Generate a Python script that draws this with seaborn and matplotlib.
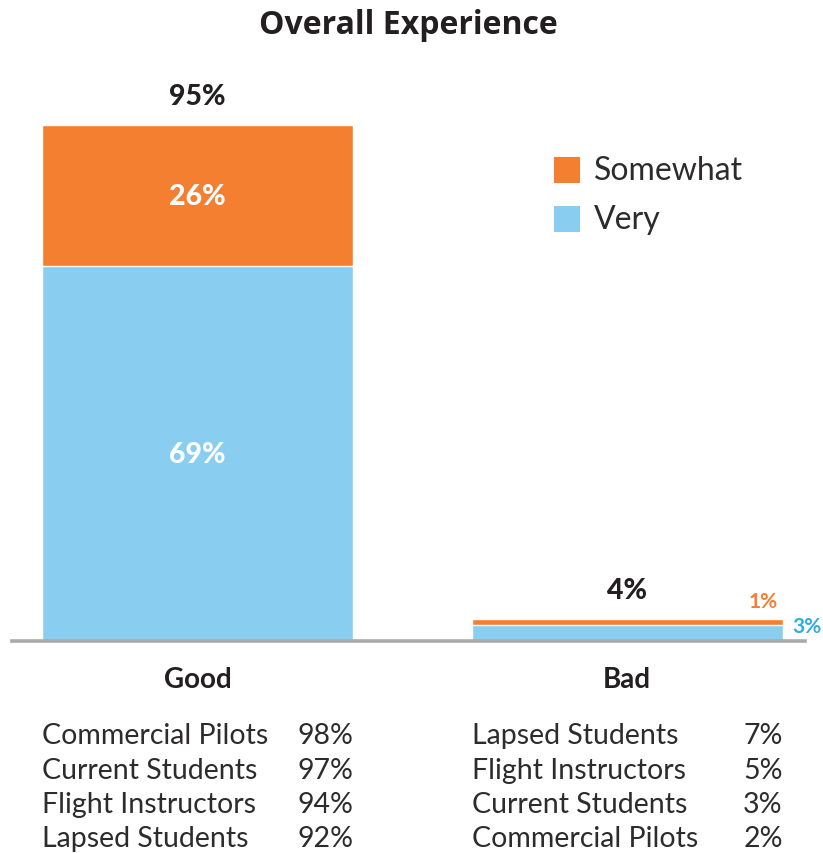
import matplotlib
matplotlib.use("Agg")
import matplotlib.pyplot as plt
from matplotlib.patches import Rectangle
import seaborn as sns
import pandas as pd

# Overall experience, share of respondents (%)
categories = ["Good", "Bad"]
very = [69, 3]
somewhat = [26, 1]
totals = [95, 4]
legend_labels = ["Somewhat", "Very"]

# Breakdown by respondent group
good_groups = ["Commercial Pilots", "Current Students", "Flight Instructors", "Lapsed Students"]
good_values = [98, 97, 94, 92]
bad_groups = ["Lapsed Students", "Flight Instructors", "Current Students", "Commercial Pilots"]
bad_values = [7, 5, 3, 2]

ORANGE = "#F47F31"
BLUE = "#89CEF0"
BLUE_TEXT = "#2FADE3"
DARK = "#231F20"
BODY = "#2E2B2C"

sns.set_theme(style="white")
plt.rcParams["font.family"] = ["Lato", "DejaVu Sans"]

df = pd.DataFrame({
    "category": categories,
    "very": very,
    "somewhat": somewhat,
})
df["total"] = df["very"] + df["somewhat"]

W, H = 823, 854
fig = plt.figure(figsize=(W / 100, H / 100), dpi=100)
ax = fig.add_axes([12 / W, (H - 642) / H, 793 / W, 543 / H])

bar_w = 0.724
sns.barplot(data=df, x="category", y="total", color=ORANGE, width=bar_w,
            saturation=1, ax=ax, order=categories)
sns.barplot(data=df, x="category", y="very", color=BLUE, width=bar_w,
            saturation=1, ax=ax, order=categories)

ax.set_xlim(-0.432, 1.414)
ax.set_ylim(0, 100)
for s in ["top", "right", "left"]:
    ax.spines[s].set_visible(False)
ax.spines["bottom"].set_color("#AAAAAA")
ax.spines["bottom"].set_linewidth(2.6)
ax.set_yticks([])
ax.set_xlabel("")
ax.set_ylabel("")
ax.tick_params(axis="x", length=0, pad=18)
ax.set_xticks(range(len(categories)))
ax.set_xticklabels(categories, fontsize=20, fontweight="bold", color=DARK)

# Totals above the bars
for i, t in enumerate(totals):
    ax.annotate(f"{t}%", (i, t), xytext=(0, 21), textcoords="offset points",
                ha="center", va="center", fontsize=20.5, fontweight="black",
                color=DARK, annotation_clip=False)

# Segment values inside the Good bar
ax.text(0, very[0] + somewhat[0] / 2, f"{somewhat[0]}%", ha="center", va="center",
        fontsize=20.5, fontweight="black", color="white")
ax.text(0, very[0] / 2, f"{very[0]}%", ha="center", va="center",
        fontsize=20.5, fontweight="black", color="white")

# Small segment values beside the Bad bar
ax.annotate(f"{somewhat[1]}%", (1 + bar_w / 2, totals[1]), xytext=(-14.4, 13),
            textcoords="offset points", ha="center", va="center",
            fontsize=15, fontweight="bold", color=ORANGE, annotation_clip=False)
ax.annotate(f"{very[1]}%", (1 + bar_w / 2, very[1] / 2), xytext=(17.3, 5),
            textcoords="offset points", ha="center", va="center",
            fontsize=15, fontweight="bold", color=BLUE_TEXT, annotation_clip=False)

# Legend: coloured squares with labels
for (y_top, color, label) in [(158, ORANGE, legend_labels[0]), (207, BLUE, legend_labels[1])]:
    fig.patches.append(Rectangle((554 / W, 1 - (y_top + 26) / H), 26 / W, 26 / H,
                                 transform=fig.transFigure, color=color, lw=0))
    fig.text(594 / W, 1 - (y_top + 13) / H, label, ha="left", va="center",
             fontsize=23, color=BODY)

# Title
fig.text(408 / W, 1 - 25 / H, "Overall Experience", ha="center", va="center",
         fontsize=23, fontweight="bold", color=DARK, family=["Open Sans", "DejaVu Sans"])

# Group breakdown tables under each bar
row_y = [736, 771, 805, 839]
inv = fig.transFigure.inverted()
for i, (groups, vals) in enumerate([(good_groups, good_values), (bad_groups, bad_values)]):
    xl = inv.transform(ax.transData.transform((i - bar_w / 2, 0)))[0]
    xr = inv.transform(ax.transData.transform((i + bar_w / 2, 0)))[0]
    for g, v, y in zip(groups, vals, row_y):
        yf = 1 - y / H
        fig.text(xl, yf, g, ha="left", va="center", fontsize=20.5, color=BODY)
        fig.text(xr, yf, f"{v}%", ha="right", va="center", fontsize=20.5, color=BODY)

fig.savefig("out.png", dpi=100)
